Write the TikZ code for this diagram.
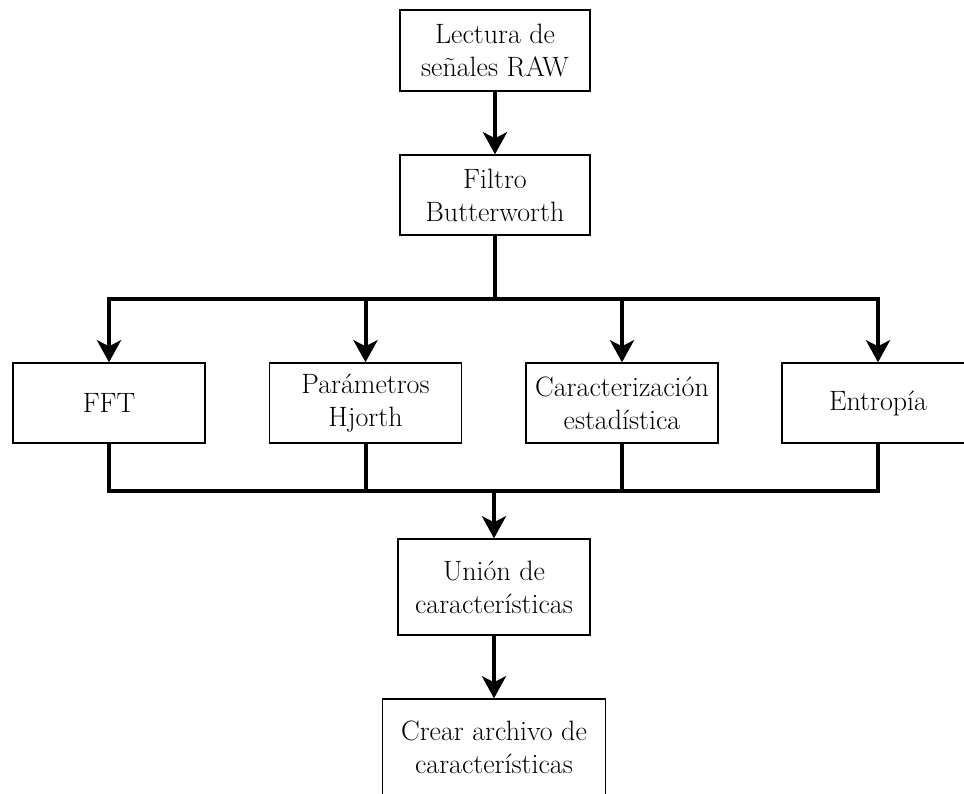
\documentclass[tikz,border=0pt]{standalone}
\usetikzlibrary{arrows.meta}

\tikzset{
  stepbox/.style={draw=black, line width=1.5pt, fill=white, inner sep=0pt,
    align=center, minimum width=192pt, minimum height=80pt,
    font=\fontsize{28}{33}\selectfont},
  flow/.style={line width=4pt, line join=miter},
  flowarrow/.style={flow, -{Stealth[length=22pt,width=24pt,inset=6pt]}},
}

\begin{document}
\begin{tikzpicture}[x=1pt,y=1pt]
  \clip (0,0) rectangle (964,-793);
  \fill[white] (0,0) rectangle (964,-793);

  % main chain
  \node[stepbox, minimum width=190pt, minimum height=81pt] (raw) at (495,-50.5) {Lectura de\\señales RAW};
  \node[stepbox, minimum width=190pt] (filtro) at (495,-195) {Filtro\\Butterworth};

  % feature extraction blocks
  \node[stepbox] (fft)     at (109,-403)   {FFT};
  \node[stepbox] (hjorth)  at (365.5,-403) {Parámetros\\Hjorth};
  \node[stepbox] (stats)   at (622,-403)   {Caracterización\\estadística};
  \node[stepbox] (entropy) at (878,-403)   {Entropía};

  % merging and output
  \node[stepbox, minimum height=96pt] (union) at (494,-587) {Unión de\\características};
  \node[stepbox, minimum width=223pt, minimum height=96pt] (file) at (494,-747) {Crear archivo de\\características};

  \coordinate (split) at (495,-299);
  \coordinate (merge) at (494,-491);

  \draw[flowarrow] (raw.south) -- (filtro.north);
  \draw[flow] (filtro.south) -- (split);
  \foreach \b in {fft,hjorth,stats,entropy}
    \draw[flowarrow] (split) -| (\b.north);

  \foreach \b in {fft,hjorth,stats,entropy}
    \draw[flow] (\b.south) |- (merge);
  \draw[flowarrow] (merge) -- (union.north);
  \draw[flowarrow] (union.south) -- (file.north);
\end{tikzpicture}
\end{document}
